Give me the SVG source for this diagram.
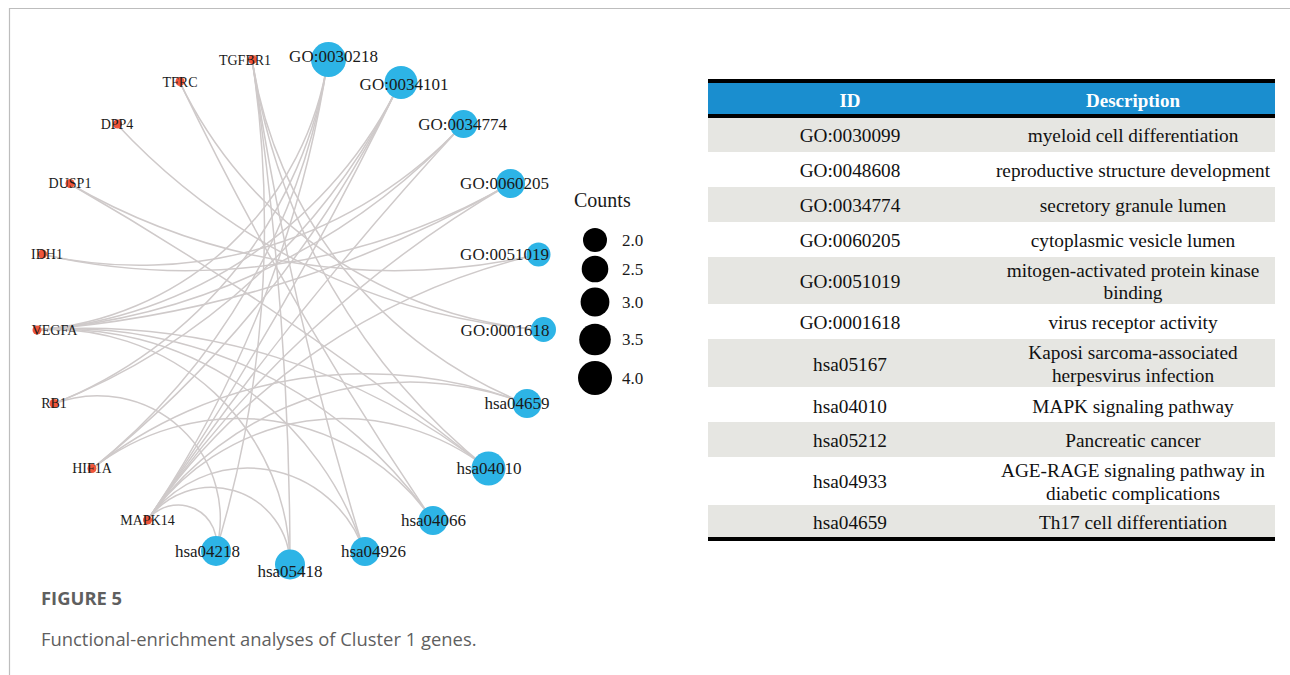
<svg xmlns="http://www.w3.org/2000/svg" width="1290" height="675" viewBox="0 0 1290 675">
<style>
.edge{fill:none;stroke:#cfcaca;stroke-width:1.5}
.term{fill:#2db4e6}
.gene{fill:#ef553b}
.glbl{font-family:"Liberation Serif","Times New Roman",serif;font-size:14px;fill:#1a1a1a;text-anchor:middle}
.tlbl{font-family:"Liberation Serif","Times New Roman",serif;font-size:17px;fill:#1a1a1a;text-anchor:middle}
.leg{font-family:"Liberation Serif","Times New Roman",serif;font-size:17px;fill:#1a1a1a}
.tb{font-family:"Liberation Serif","Times New Roman",serif;font-size:19.3px;fill:#111;text-anchor:middle}
.th{font-family:"Liberation Serif","Times New Roman",serif;font-size:19px;font-weight:bold;fill:#fff;text-anchor:middle}
.gray{fill:#e6e6e2}
.cap{font-family:"Open Sans","Liberation Sans",sans-serif;font-size:18.4px;fill:#5f5f5f}
</style>
<rect width="1290" height="675" fill="#fff"/>
<path d="M9.5,675 V8.5 H1290" fill="none" stroke="#bdbdbd" stroke-width="1.2"/>

<g id="connectors">
<path class="edge" d="M252,58.9 A441.7,441.7 0 0 0 527.4,404.2"/>
<path class="edge" d="M252,58.9 A649.5,649.5 0 0 0 489.4,470"/>
<path class="edge" d="M252,58.9 A3396.6,3396.6 0 0 0 365.2,554.7"/>
<path class="edge" d="M290,566 A3396.6,3396.6 0 0 0 252,58.9"/>
<path class="edge" d="M214.8,554.7 A1117.2,1117.2 0 0 0 252,58.9"/>
<path class="edge" d="M179.4,81.3 A441.7,441.7 0 0 0 544.3,330.1"/>
<path class="edge" d="M179.4,81.3 A3396.6,3396.6 0 0 0 433.6,521.7"/>
<path class="edge" d="M116.6,124.1 A649.5,649.5 0 0 0 544.3,330.1"/>
<path class="edge" d="M489.4,470 A3396.6,3396.6 0 0 0 69.2,183.5"/>
<path class="edge" d="M69.2,183.5 A649.5,649.5 0 0 0 538.6,254.3"/>
<path class="edge" d="M41.4,254.3 A441.7,441.7 0 0 0 463.4,124.1"/>
<path class="edge" d="M41.4,254.3 A649.5,649.5 0 0 0 510.8,183.5"/>
<path class="edge" d="M489.4,470 A649.5,649.5 0 0 0 35.7,330.1"/>
<path class="edge" d="M433.6,521.7 A441.7,441.7 0 0 0 35.7,330.1"/>
<path class="edge" d="M365.2,554.7 A319.8,319.8 0 0 0 35.7,330.1"/>
<path class="edge" d="M290,566 A236.7,236.7 0 0 0 35.7,330.1"/>
<path class="edge" d="M35.7,330.1 A319.8,319.8 0 0 0 328,58.9"/>
<path class="edge" d="M35.7,330.1 A441.7,441.7 0 0 0 400.6,81.3"/>
<path class="edge" d="M35.7,330.1 A649.5,649.5 0 0 0 463.4,124.1"/>
<path class="edge" d="M35.7,330.1 A1117.2,1117.2 0 0 0 510.8,183.5"/>
<path class="edge" d="M214.8,554.7 A122.8,122.8 0 0 0 52.6,404.2"/>
<path class="edge" d="M52.6,404.2 A441.7,441.7 0 0 0 328,58.9"/>
<path class="edge" d="M52.6,404.2 A649.5,649.5 0 0 0 400.6,81.3"/>
<path class="edge" d="M527.4,404.2 A441.7,441.7 0 0 0 90.6,470"/>
<path class="edge" d="M433.6,521.7 A236.7,236.7 0 0 0 90.6,470"/>
<path class="edge" d="M90.6,470 A649.5,649.5 0 0 0 328,58.9"/>
<path class="edge" d="M90.6,470 A1117.2,1117.2 0 0 0 400.6,81.3"/>
<path class="edge" d="M146.4,521.7 A1117.2,1117.2 0 0 0 328,58.9"/>
<path class="edge" d="M146.4,521.7 A3396.6,3396.6 0 0 0 400.6,81.3"/>
<path class="edge" d="M463.4,124.1 A3396.6,3396.6 0 0 0 146.4,521.7"/>
<path class="edge" d="M510.8,183.5 A1117.2,1117.2 0 0 0 146.4,521.7"/>
<path class="edge" d="M538.6,254.3 A649.5,649.5 0 0 0 146.4,521.7"/>
<path class="edge" d="M527.4,404.2 A319.8,319.8 0 0 0 146.4,521.7"/>
<path class="edge" d="M489.4,470 A236.7,236.7 0 0 0 146.4,521.7"/>
<path class="edge" d="M365.2,554.7 A122.8,122.8 0 0 0 146.4,521.7"/>
<path class="edge" d="M290,566 A78.6,78.6 0 0 0 146.4,521.7"/>
<path class="edge" d="M214.8,554.7 A38.4,38.4 0 0 0 146.4,521.7"/>
</g>

<g id="TGFBR1"><circle class="gene" cx="252.5" cy="59.5" r="4.5"/><text class="glbl" x="245" y="65">TGFBR1</text></g>
<g id="TFRC"><circle class="gene" cx="180" cy="81.5" r="4.5"/><text class="glbl" x="180" y="86.5">TFRC</text></g>
<g id="DPP4"><circle class="gene" cx="117.5" cy="124" r="4.5"/><text class="glbl" x="117" y="129">DPP4</text></g>
<g id="DUSP1"><circle class="gene" cx="70" cy="183.5" r="4.5"/><text class="glbl" x="70" y="188">DUSP1</text></g>
<g id="IDH1"><circle class="gene" cx="42.5" cy="254" r="4.5"/><text class="glbl" x="47" y="258.5">IDH1</text></g>
<g id="VEGFA"><circle class="gene" cx="37" cy="330" r="4.5"/><text class="glbl" x="54.5" y="334.5">VEGFA</text></g>
<g id="RB1"><circle class="gene" cx="54" cy="403.5" r="4.5"/><text class="glbl" x="54" y="407.5">RB1</text></g>
<g id="HIF1A"><circle class="gene" cx="92" cy="468.5" r="4.5"/><text class="glbl" x="92" y="473">HIF1A</text></g>
<g id="MAPK14"><circle class="gene" cx="147.5" cy="520" r="4.5"/><text class="glbl" x="147.5" y="525">MAPK14</text></g>

<g id="GO_0030218"><circle class="term" cx="328.5" cy="59.5" r="17.5"/><text class="tlbl" x="333.5" y="62">GO:0030218</text></g>
<g id="GO_0034101"><circle class="term" cx="401" cy="82.5" r="16.5"/><text class="tlbl" x="404" y="90">GO:0034101</text></g>
<g id="GO_0034774"><circle class="term" cx="463.5" cy="124" r="14"/><text class="tlbl" x="462.6" y="130">GO:0034774</text></g>
<g id="GO_0060205"><circle class="term" cx="510.5" cy="183.5" r="14.5"/><text class="tlbl" x="504.5" y="189">GO:0060205</text></g>
<g id="GO_0051019"><circle class="term" cx="538.5" cy="254.5" r="12"/><text class="tlbl" x="504.5" y="260">GO:0051019</text></g>
<g id="GO_0001618"><circle class="term" cx="543.5" cy="329.5" r="12.5"/><text class="tlbl" x="505" y="336">GO:0001618</text></g>
<g id="hsa04659"><circle class="term" cx="527" cy="403.5" r="14.5"/><text class="tlbl" x="517" y="409">hsa04659</text></g>
<g id="hsa04010"><circle class="term" cx="488.5" cy="468.5" r="17"/><text class="tlbl" x="489" y="474">hsa04010</text></g>
<g id="hsa04066"><circle class="term" cx="433" cy="520.5" r="14.5"/><text class="tlbl" x="433.5" y="526">hsa04066</text></g>
<g id="hsa04926"><circle class="term" cx="365" cy="551.5" r="14.5"/><text class="tlbl" x="373.5" y="557">hsa04926</text></g>
<g id="hsa05418"><circle class="term" cx="290" cy="564.5" r="15"/><text class="tlbl" x="290" y="577">hsa05418</text></g>
<g id="hsa04218"><circle class="term" cx="216" cy="551" r="15"/><text class="tlbl" x="207.5" y="557">hsa04218</text></g>

<g id="legend">
<text x="574" y="207" font-family="Liberation Serif, Times New Roman, serif" font-size="20px" fill="#1a1a1a">Counts</text>
<circle cx="595" cy="240" r="12"/>
<circle cx="595" cy="269" r="13.3"/>
<circle cx="595" cy="302" r="14.4"/>
<circle cx="595" cy="339.5" r="15.8"/>
<circle cx="595" cy="378" r="17"/>
<text class="leg" x="622" y="246">2.0</text>
<text class="leg" x="622" y="275">2.5</text>
<text class="leg" x="622" y="308">3.0</text>
<text class="leg" x="622" y="345">3.5</text>
<text class="leg" x="622" y="384">4.0</text>
</g>

<g id="table">
<rect x="708" y="79" width="567" height="4" fill="#000"/>
<rect x="708" y="83" width="567" height="31" fill="#1a8ecf"/>
<rect x="708" y="114" width="567" height="4" fill="#000"/>
<rect class="gray" x="708" y="118" width="567" height="34"/>
<rect class="gray" x="708" y="187" width="567" height="35"/>
<rect class="gray" x="708" y="257" width="567" height="47"/>
<rect class="gray" x="708" y="339" width="567" height="48"/>
<rect class="gray" x="708" y="422" width="567" height="35"/>
<rect class="gray" x="708" y="505" width="567" height="32"/>
<rect x="708" y="537" width="567" height="4" fill="#000"/>
<text class="th" x="850" y="106.5">ID</text>
<text class="th" x="1133" y="106.5">Description</text>
<text class="tb" x="850" y="141.5">GO:0030099</text><text class="tb" x="1133" y="141.5">myeloid cell differentiation</text>
<text class="tb" x="850" y="176.5">GO:0048608</text><text class="tb" x="1133" y="176.5">reproductive structure development</text>
<text class="tb" x="850" y="211.5">GO:0034774</text><text class="tb" x="1133" y="211.5">secretory granule lumen</text>
<text class="tb" x="850" y="246.5">GO:0060205</text><text class="tb" x="1133" y="246.5">cytoplasmic vesicle lumen</text>
<text class="tb" x="850" y="287.5">GO:0051019</text><text class="tb" x="1133" y="276.5">mitogen-activated protein kinase</text><text class="tb" x="1133" y="298.5">binding</text>
<text class="tb" x="850" y="328.5">GO:0001618</text><text class="tb" x="1133" y="328.5">virus receptor activity</text>
<text class="tb" x="850" y="370.5">hsa05167</text><text class="tb" x="1133" y="358.5">Kaposi sarcoma-associated</text><text class="tb" x="1133" y="381.5">herpesvirus infection</text>
<text class="tb" x="850" y="412.5">hsa04010</text><text class="tb" x="1133" y="412.5">MAPK signaling pathway</text>
<text class="tb" x="850" y="446.5">hsa05212</text><text class="tb" x="1133" y="446.5">Pancreatic cancer</text>
<text class="tb" x="850" y="487.5">hsa04933</text><text class="tb" x="1133" y="476.5">AGE-RAGE signaling pathway in</text><text class="tb" x="1133" y="499.5">diabetic complications</text>
<text class="tb" x="850" y="528.5">hsa04659</text><text class="tb" x="1133" y="528.5">Th17 cell differentiation</text>
</g>

<g id="caption">
<text class="cap" x="41" y="605" font-weight="bold" fill="#555">FIGURE 5</text>
<text class="cap" x="41" y="646">Functional-enrichment analyses of Cluster 1 genes.</text>
</g>
</svg>
